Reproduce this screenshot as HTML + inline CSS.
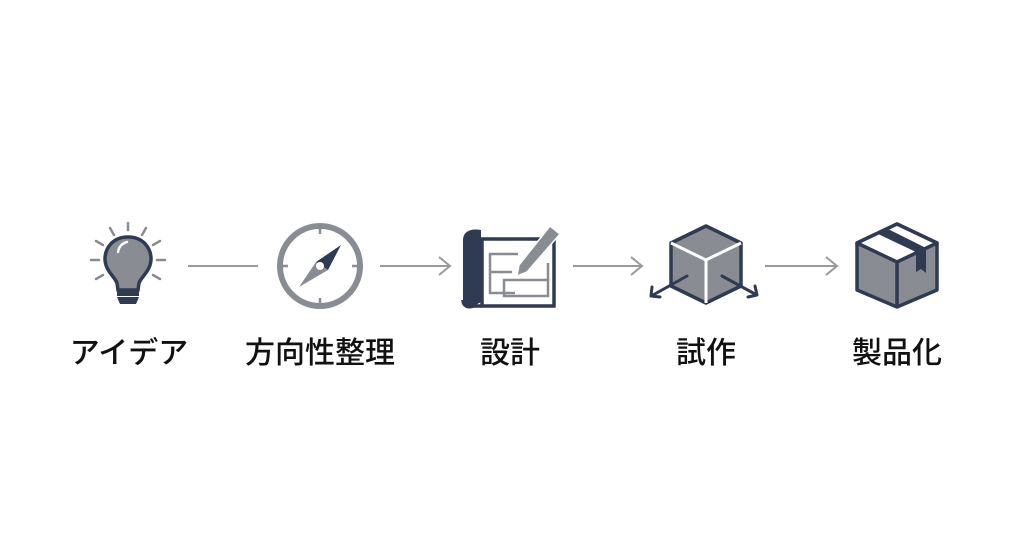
<!DOCTYPE html>
<html><head><meta charset="utf-8"><style>
html,body{margin:0;padding:0;background:#fff;width:1024px;height:533px;overflow:hidden}
svg{display:block}
text{font-family:"Liberation Sans","Noto Sans CJK JP",sans-serif;font-size:30px;font-weight:500;fill:#111;text-anchor:middle}
</style></head><body>
<svg width="1024" height="533" viewBox="0 0 1024 533">
<g stroke="#8a8c93" stroke-width="2.5" stroke-linecap="round">
<line x1="128" y1="223" x2="128" y2="230"/>
<line x1="110" y1="228" x2="114" y2="235"/>
<line x1="146" y1="228" x2="142" y2="235"/>
<line x1="96" y1="241" x2="103" y2="245"/>
<line x1="160" y1="241" x2="153" y2="245"/>
<line x1="91" y1="260" x2="99" y2="260"/>
<line x1="157" y1="260" x2="165" y2="260"/>
<line x1="96" y1="279" x2="103" y2="275"/>
<line x1="160" y1="279" x2="153" y2="275"/>
</g>
<path d="M128 237 C112 237 105 249 105 259 C105 270 114 276 117 283 L118 290 L138 290 L139 283 C142 276 151 270 151 259 C151 249 144 237 128 237 Z" fill="#8a8c93" stroke="#2f3b52" stroke-width="3.5"/>
<path d="M118 252 C119 246 123 243 127 242" stroke="#fff" stroke-width="2.5" fill="none" stroke-linecap="round"/>
<rect x="117" y="291" width="22" height="5" fill="#2f3b52"/>
<path d="M117 297 L139 297 L136 304 L120 304 Z" fill="#2f3b52"/>
<g stroke="#9a9a9a" stroke-width="2" fill="none">
<line x1="188" y1="266" x2="258" y2="266"/>
<line x1="380" y1="266" x2="450" y2="266"/><path d="M439 257 L450 266 L439 275"/>
<line x1="573" y1="266" x2="642" y2="266"/><path d="M631 257 L642 266 L631 275"/>
<line x1="765" y1="266" x2="837" y2="266"/><path d="M826 257 L837 266 L826 275"/>
</g>
<circle cx="320" cy="266" r="40" fill="none" stroke="#8a8c93" stroke-width="6"/>
<g stroke="#8a8c93" stroke-width="2.5"><line x1="320" y1="226" x2="320" y2="234"/><line x1="320" y1="298" x2="320" y2="306"/><line x1="280" y1="266" x2="288" y2="266"/><line x1="352" y1="266" x2="360" y2="266"/></g>
<path d="M341 245 L328 270 L316 262 Z" fill="#2f3b52"/>
<path d="M299 287 L316 262 L328 270 Z" fill="#8a8c93"/>
<circle cx="320" cy="266" r="4" fill="#fff"/>
<rect x="482" y="239" width="72" height="67" fill="none" stroke="#2f3b52" stroke-width="3.5"/>
<path d="M481 230 C470 228 463 232 463 240 L463 300 C463 306 468 308 474 306 L481 302 Z" fill="#2f3b52"/>
<path d="M463 300 C463 306 468 308 474 306 L482 306" fill="none" stroke="#2f3b52" stroke-width="3.5"/>
<g fill="none" stroke="#8a8c93" stroke-width="2.5">
<path d="M518 254 L490 254 L490 293 L515 293"/><line x1="490" y1="272" x2="512" y2="272"/>
<path d="M504 280 L548 280 L548 296 L504 296 Z"/><line x1="548" y1="263" x2="548" y2="280"/>
</g>
<path d="M550 226 L560 234 L527 272 L517 276 L519 265 Z" fill="#8a8c93" stroke="#fff" stroke-width="1.5"/>
<path d="M706 226 L741 243 L741 286 L706 303 L671 286 L671 243 Z" fill="#8a8c93" stroke="#2f3b52" stroke-width="3.5" stroke-linejoin="round"/>
<path d="M671 243 L706 260 L741 243 M706 260 L706 303" fill="none" stroke="#fff" stroke-width="3"/>
<g stroke="#2f3b52" stroke-width="3" fill="none" stroke-linecap="round" stroke-linejoin="round">
<line x1="687" y1="276" x2="653" y2="295"/><path d="M652 287 L651 296 L660 297"/>
<line x1="722" y1="276" x2="755" y2="294"/><path d="M755 286 L757 295 L748 297"/>
</g>
<path d="M897 224 L937 243 L937 290 L897 307 L857 290 L857 243 Z" fill="#8a8c93" stroke="#2f3b52" stroke-width="3.5" stroke-linejoin="round"/>
<path d="M857 243 L897 262 L937 243 L897 224 Z" fill="#fff" stroke="#2f3b52" stroke-width="3.5" stroke-linejoin="round"/>
<path d="M878 234 L916 252 L916 272 L921 269 L926 273 L926 248 L888 229 Z" fill="#2f3b52"/>
<line x1="897" y1="262" x2="897" y2="307" stroke="#2f3b52" stroke-width="3.5"/>
<text x="129" y="363">アイデア</text>
<text x="320" y="363">方向性整理</text>
<text x="510" y="363">設計</text>
<text x="706" y="363">試作</text>
<text x="897" y="363">製品化</text>
</svg>
</body></html>
